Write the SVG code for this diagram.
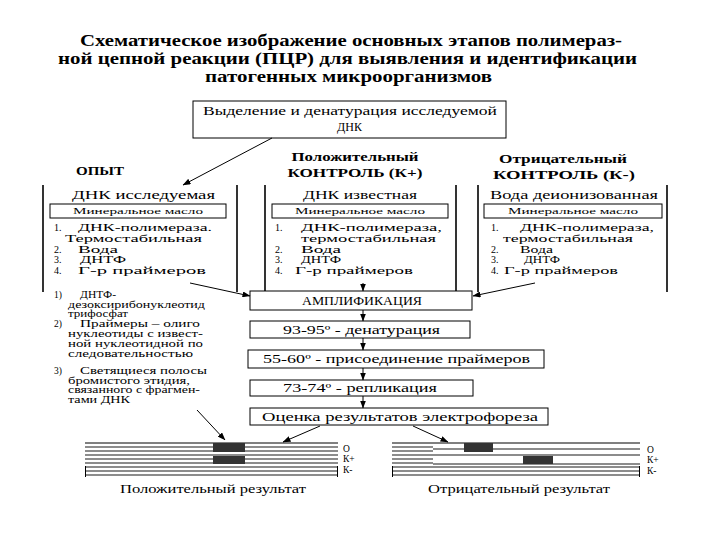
<svg xmlns="http://www.w3.org/2000/svg" width="720" height="540" viewBox="0 0 720 540">
<defs>
<marker id="ah" markerWidth="8" markerHeight="6" refX="7.5" refY="3" orient="auto" markerUnits="userSpaceOnUse"><path d="M0,0 L8,3 L0,6 z" fill="#000"/></marker>
<style>
text{font-family:"Liberation Serif","DejaVu Serif","Times New Roman",serif;fill:#000}
.t{font-size:16px;font-weight:bold}
.h{font-size:13px;font-weight:bold}
.c{font-size:12px}
.i{font-size:10px}
.m{font-size:9px}
.n{font-size:9.5px}
.f{font-size:11.5px}
.b{fill:#fff;stroke:#000;stroke-width:1}
.bar{stroke:#000;stroke-width:1.6}
.g{stroke:#8c8c8c;stroke-width:2}
.band{fill:#333}
.ln{stroke:#000;stroke-width:1;fill:none}
</style>
</defs>
<rect width="720" height="540" fill="#fff"/>
<g id="title">
<text class="t" x="80" y="46" textLength="542" lengthAdjust="spacingAndGlyphs">Схематическое изображение основных этапов полимераз-</text>
<text class="t" x="58" y="64" textLength="579" lengthAdjust="spacingAndGlyphs">ной цепной реакции (ПЦР) для выявления и идентификации</text>
<text class="t" x="205" y="82" textLength="287" lengthAdjust="spacingAndGlyphs">патогенных микроорганизмов</text>
</g>
<g id="isolation">
<rect class="b" x="193" y="101" width="313" height="37"/>
<text class="c" x="203" y="115" textLength="294" lengthAdjust="spacingAndGlyphs">Выделение и денатурация исследуемой</text>
<text class="c" x="349.5" y="131" text-anchor="middle">ДНК</text>
</g>
<g id="experiment">
<text class="h" x="100" y="175" text-anchor="middle" textLength="48" lengthAdjust="spacingAndGlyphs">ОПЫТ</text>
<line class="bar" x1="43" y1="185" x2="43" y2="292"/>
<line class="bar" x1="237" y1="185" x2="237" y2="292"/>
<text class="c" x="72" y="199" textLength="143" lengthAdjust="spacingAndGlyphs">ДНК исследуемая</text>
<rect class="b" x="50" y="204" width="176" height="14"/>
<text class="m" x="138" y="214" text-anchor="middle" textLength="130" lengthAdjust="spacingAndGlyphs">Минеральное масло</text>
<text class="i" x="54" y="231">1.</text><text class="i" x="78" y="231" textLength="134" lengthAdjust="spacingAndGlyphs">ДНК-полимераза.</text>
<text class="i" x="65" y="242" textLength="137" lengthAdjust="spacingAndGlyphs">Термостабильная</text>
<text class="i" x="54" y="252.5">2.</text><text class="i" x="78" y="252.5" textLength="40" lengthAdjust="spacingAndGlyphs">Вода</text>
<text class="i" x="54" y="263">3.</text><text class="i" x="80" y="263" textLength="46" lengthAdjust="spacingAndGlyphs">ДНТФ</text>
<text class="i" x="54" y="273.5">4.</text><text class="i" x="78" y="273.5" textLength="128" lengthAdjust="spacingAndGlyphs">Г-р праймеров</text>
</g>
<g id="positive-control">
<text class="h" x="355" y="161" text-anchor="middle" textLength="127" lengthAdjust="spacingAndGlyphs">Положительный</text>
<text class="h" x="355" y="177" text-anchor="middle" textLength="135" lengthAdjust="spacingAndGlyphs">КОНТРОЛЬ (К+)</text>
<line class="bar" x1="265" y1="185" x2="265" y2="292"/>
<line class="bar" x1="456" y1="185" x2="456" y2="292"/>
<text class="c" x="303" y="199" textLength="114" lengthAdjust="spacingAndGlyphs">ДНК известная</text>
<rect class="b" x="272" y="204" width="176" height="14"/>
<text class="m" x="360" y="214" text-anchor="middle" textLength="130" lengthAdjust="spacingAndGlyphs">Минеральное масло</text>
<text class="i" x="275" y="231">1.</text><text class="i" x="301" y="231" textLength="141" lengthAdjust="spacingAndGlyphs">ДНК-полимераза,</text>
<text class="i" x="301" y="242" textLength="135" lengthAdjust="spacingAndGlyphs">термостабильная</text>
<text class="i" x="275" y="252.5">2.</text><text class="i" x="301" y="252.5" textLength="40" lengthAdjust="spacingAndGlyphs">Вода</text>
<text class="i" x="275" y="263">3.</text><text class="i" x="301" y="263" textLength="40" lengthAdjust="spacingAndGlyphs">ДНТФ</text>
<text class="i" x="275" y="273.5">4.</text><text class="i" x="295" y="273.5" textLength="118" lengthAdjust="spacingAndGlyphs">Г-р праймеров</text>
</g>
<g id="negative-control">
<text class="h" x="563" y="163" text-anchor="middle" textLength="128" lengthAdjust="spacingAndGlyphs">Отрицательный</text>
<text class="h" x="564" y="179" text-anchor="middle" textLength="142" lengthAdjust="spacingAndGlyphs">КОНТРОЛЬ (К-)</text>
<line class="bar" x1="478" y1="185" x2="478" y2="292"/>
<line class="bar" x1="667" y1="185" x2="667" y2="292"/>
<text class="c" x="490" y="199" textLength="168" lengthAdjust="spacingAndGlyphs">Вода деионизованная</text>
<rect class="b" x="484" y="204" width="178" height="14"/>
<text class="m" x="573" y="214" text-anchor="middle" textLength="130" lengthAdjust="spacingAndGlyphs">Минеральное масло</text>
<text class="i" x="491" y="231">1.</text><text class="i" x="520" y="231" textLength="134" lengthAdjust="spacingAndGlyphs">ДНК-полимераза,</text>
<text class="i" x="503" y="242" textLength="130" lengthAdjust="spacingAndGlyphs">термостабильная</text>
<text class="i" x="491" y="252.5">2.</text><text class="i" x="520" y="252.5" textLength="33" lengthAdjust="spacingAndGlyphs">Вода</text>
<text class="i" x="491" y="263">3.</text><text class="i" x="524" y="263" textLength="36" lengthAdjust="spacingAndGlyphs">ДНТФ</text>
<text class="i" x="491" y="273.5">4.</text><text class="i" x="504" y="273.5" textLength="114" lengthAdjust="spacingAndGlyphs">Г-р праймеров</text>
</g>
<g id="notes">
<text class="n" x="54" y="298">1)</text><text class="n" x="80" y="298" textLength="36" lengthAdjust="spacingAndGlyphs">ДНТФ-</text>
<text class="n" x="68" y="308" textLength="137" lengthAdjust="spacingAndGlyphs">дезоксирибонуклеотид</text>
<text class="n" x="68" y="317" textLength="60" lengthAdjust="spacingAndGlyphs">трифосфат</text>
<text class="n" x="54" y="327">2)</text><text class="n" x="80" y="327" textLength="120" lengthAdjust="spacingAndGlyphs">Праймеры – олиго</text>
<text class="n" x="68" y="337" textLength="135" lengthAdjust="spacingAndGlyphs">нуклеотиды с извест-</text>
<text class="n" x="68" y="347" textLength="135" lengthAdjust="spacingAndGlyphs">ной нуклеотидной по</text>
<text class="n" x="68" y="357" textLength="125" lengthAdjust="spacingAndGlyphs">следовательностью</text>
<text class="n" x="54" y="374">3)</text><text class="n" x="80" y="374" textLength="127" lengthAdjust="spacingAndGlyphs">Светящиеся полосы</text>
<text class="n" x="68" y="383.5" textLength="122" lengthAdjust="spacingAndGlyphs">бромистого этидия,</text>
<text class="n" x="68" y="393" textLength="132" lengthAdjust="spacingAndGlyphs">связанного с фрагмен-</text>
<text class="n" x="68" y="402.5" textLength="62" lengthAdjust="spacingAndGlyphs">тами ДНК</text>
</g>
<g id="amplification">
<rect class="b" x="250" y="291" width="222" height="19"/>
<text class="f" x="362" y="305" text-anchor="middle" textLength="120" lengthAdjust="spacingAndGlyphs">АМПЛИФИКАЦИЯ</text>
</g>
<g id="denaturation">
<rect class="b" x="250" y="321" width="220" height="17"/>
<text class="f" x="283" y="334" textLength="157" lengthAdjust="spacingAndGlyphs">93-95º - денатурация</text>
</g>
<g id="annealing">
<rect class="b" x="248" y="350" width="296" height="18"/>
<text class="f" x="263" y="363" textLength="267" lengthAdjust="spacingAndGlyphs">55-60º - присоединение праймеров</text>
</g>
<g id="replication">
<rect class="b" x="250" y="380" width="223" height="16"/>
<text class="f" x="283" y="392" textLength="154" lengthAdjust="spacingAndGlyphs">73-74º - репликация</text>
</g>
<g id="electrophoresis">
<rect class="b" x="250" y="408" width="298" height="17"/>
<text class="f" x="262" y="421" textLength="276" lengthAdjust="spacingAndGlyphs">Оценка результатов электрофореза</text>
</g>
<g id="positive-gel">
<line x1="85" y1="443" x2="338" y2="443" stroke="#000" stroke-width="1"/>
<g class="g">
<line x1="85" y1="447" x2="338" y2="447"/>
<line x1="85" y1="451" x2="338" y2="451"/>
<line x1="85" y1="455" x2="338" y2="455"/>
<line x1="85" y1="459" x2="338" y2="459"/>
<line x1="85" y1="463" x2="338" y2="463"/>
<line x1="85" y1="467" x2="338" y2="467"/>
<line x1="85" y1="471" x2="338" y2="471"/>
<line x1="85" y1="475" x2="338" y2="475"/>
</g>
<line class="ln" x1="85.5" y1="466" x2="85.5" y2="477"/>
<line class="ln" x1="337.5" y1="466" x2="337.5" y2="477"/>
<rect class="band" x="213" y="443" width="32" height="9"/>
<rect class="band" x="213" y="456" width="32" height="8"/>
<text class="n" x="343" y="452">О</text>
<text class="n" x="343" y="462">К+</text>
<text class="n" x="343" y="473">К-</text>
<text class="c" x="120" y="493" textLength="186" lengthAdjust="spacingAndGlyphs">Положительный результат</text>
</g>
<g id="negative-gel">
<line x1="392" y1="443" x2="640" y2="443" stroke="#000" stroke-width="1"/>
<g class="g">
<line x1="392" y1="447" x2="433" y2="447"/>
<line x1="392" y1="451" x2="433" y2="451"/>
<line x1="392" y1="455" x2="433" y2="455"/>
<line x1="392" y1="459" x2="433" y2="459"/>
<line x1="392" y1="463" x2="433" y2="463"/>
<line x1="433" y1="449" x2="640" y2="449"/>
<line x1="433" y1="455" x2="640" y2="455"/>
<line x1="433" y1="464" x2="640" y2="464"/>
<line x1="392" y1="467" x2="640" y2="467"/>
<line x1="392" y1="471" x2="640" y2="471"/>
<line x1="392" y1="475" x2="640" y2="475"/>
</g>
<line class="ln" x1="392.5" y1="466" x2="392.5" y2="477"/>
<line class="ln" x1="639.5" y1="466" x2="639.5" y2="477"/>
<rect class="band" x="464" y="443" width="29" height="9"/>
<rect class="band" x="523" y="456" width="30" height="8"/>
<text class="n" x="647" y="453">О</text>
<text class="n" x="647" y="463">К+</text>
<text class="n" x="647" y="474">К-</text>
<text class="c" x="428" y="493" textLength="182" lengthAdjust="spacingAndGlyphs">Отрицательный результат</text>
</g>
<g id="connectors" class="ln" marker-end="url(#ah)">
<line x1="272" y1="138" x2="183" y2="185"/>
<line x1="190" y1="283" x2="250" y2="296"/>
<line x1="363" y1="283" x2="363" y2="291"/>
<line x1="535" y1="283" x2="473" y2="296"/>
<line x1="363" y1="310" x2="363" y2="321"/>
<line x1="363" y1="338" x2="363" y2="350"/>
<line x1="363" y1="368" x2="363" y2="380"/>
<line x1="363" y1="396" x2="363" y2="408"/>
<line x1="197" y1="410" x2="225" y2="440"/>
<line x1="320" y1="426" x2="283" y2="442"/>
<line x1="413" y1="426" x2="448" y2="442"/>
</g>
</svg>
